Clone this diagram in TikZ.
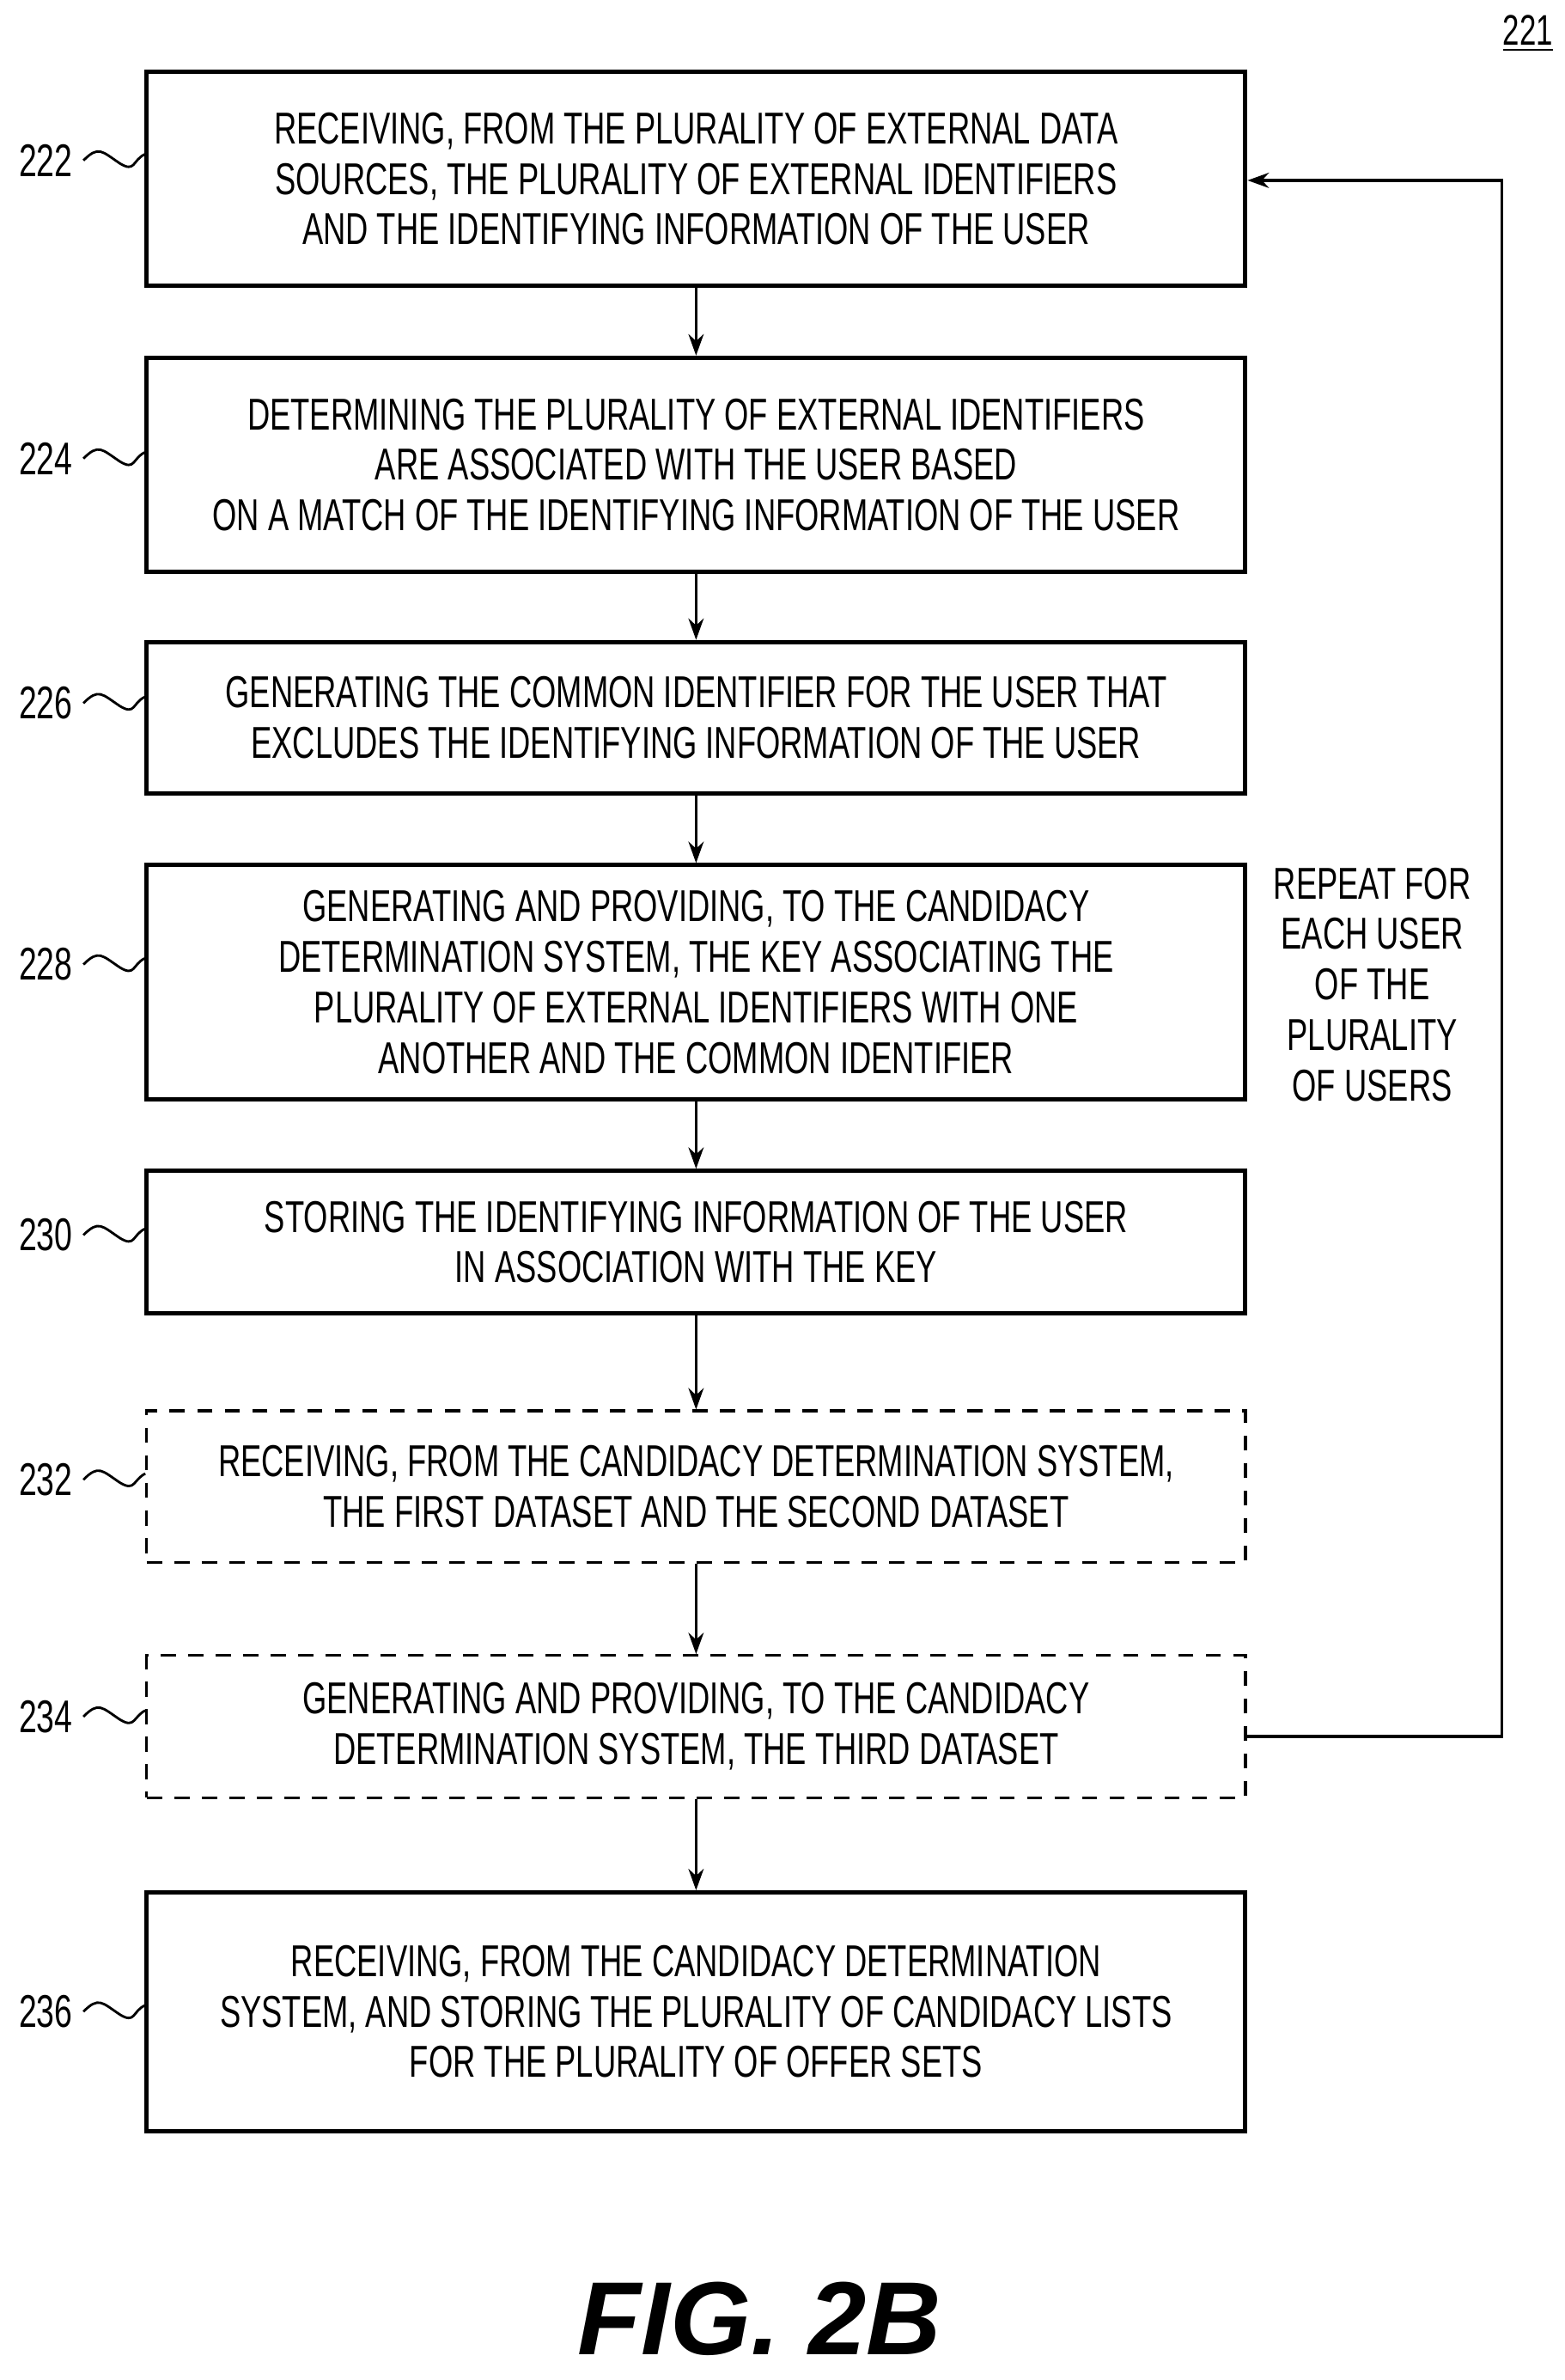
\documentclass[tikz,border=0pt]{standalone}
\usepackage{fontspec}
\setmainfont{Liberation Sans}
\newfontfamily\cond[FakeStretch=0.7]{Liberation Sans}
\usetikzlibrary{arrows.meta}
\begin{document}
\begin{tikzpicture}[x=0.5pt,y=-0.5pt,
  box/.style={draw,line width=1.4pt,minimum width=359.5pt,align=center,font=\cond\fontsize{14.6}{16.5}\selectfont,inner sep=0pt},
  dbox/.style={box,dash pattern=on 5pt off 4pt,line width=0.9pt},
  lab/.style={font=\cond\fontsize{15}{16}\selectfont},
  arr/.style={-{Stealth[length=7pt,width=5pt]},line width=0.9pt}]
\useasboundingbox (0,0) rectangle (1024,1557);
\node[box,minimum height=70pt] (b222) at (455.5,117) {RECEIVING, FROM THE PLURALITY OF EXTERNAL DATA\\SOURCES, THE PLURALITY OF EXTERNAL IDENTIFIERS\\AND THE IDENTIFYING INFORMATION OF THE USER};
\node[box,minimum height=70pt] (b224) at (455.5,304) {DETERMINING THE PLURALITY OF EXTERNAL IDENTIFIERS\\ARE ASSOCIATED WITH THE USER BASED\\ON A MATCH OF THE IDENTIFYING INFORMATION OF THE USER};
\node[box,minimum height=49.5pt] (b226) at (455.5,469.5) {GENERATING THE COMMON IDENTIFIER FOR THE USER THAT\\EXCLUDES THE IDENTIFYING INFORMATION OF THE USER};
\node[box,minimum height=76.5pt] (b228) at (455.5,642.5) {GENERATING AND PROVIDING, TO THE CANDIDACY\\DETERMINATION SYSTEM, THE KEY ASSOCIATING THE\\PLURALITY OF EXTERNAL IDENTIFIERS WITH ONE\\ANOTHER AND THE COMMON IDENTIFIER};
\node[box,minimum height=46.5pt] (b230) at (455.5,812.5) {STORING THE IDENTIFYING INFORMATION OF THE USER\\IN ASSOCIATION WITH THE KEY};
\node[dbox,minimum height=49.5pt] (b232) at (455.5,972.5) {RECEIVING, FROM THE CANDIDACY DETERMINATION SYSTEM,\\THE FIRST DATASET AND THE SECOND DATASET};
\node[dbox,minimum height=46.5pt] (b234) at (455.5,1129.5) {GENERATING AND PROVIDING, TO THE CANDIDACY\\DETERMINATION SYSTEM, THE THIRD DATASET};
\node[box,minimum height=78pt] (b236) at (455.5,1316) {RECEIVING, FROM THE CANDIDACY DETERMINATION\\SYSTEM, AND STORING THE PLURALITY OF CANDIDACY LISTS\\FOR THE PLURALITY OF OFFER SETS};
\foreach \a/\b in {b222/b224,b224/b226,b226/b228,b228/b230,b230/b232,b232/b234,b234/b236}
  \draw[arr] (\a) -- (\b);
\coordinate (c1) at (983,1136);
\coordinate (c2) at (983,118);
\draw[arr] (b234.east |- c1) -- (c1) -- (c2) -- (b222.east |- c2);
\node[lab,align=center,font=\cond\fontsize{14.6}{16.5}\selectfont] (rep) at (898,644) {REPEAT FOR\\EACH USER\\OF THE\\PLURALITY\\OF USERS};
\foreach \n/\y in {222/105,224/300,226/460,228/631,230/808,232/968,234/1123,236/1316}{
  \node[lab] (l\n) at (30,\y) {\n};
  \draw[line width=0.8pt] (l\n.east) .. controls +(10,-10) and +(-12,-8) .. +(24,2) .. controls +(10,6) and +(-8,4) .. (b\n.west |- 0,\y-4);
}
\node[lab,font=\cond\fontsize{14}{16}\selectfont] (n221) at (1000,22) {\underline{221}};
\node[font=\bfseries\itshape\fontsize{34}{36}\selectfont,inner sep=0pt] (fig) at (497,1517) {FIG. 2B};
\end{tikzpicture}
\end{document}
